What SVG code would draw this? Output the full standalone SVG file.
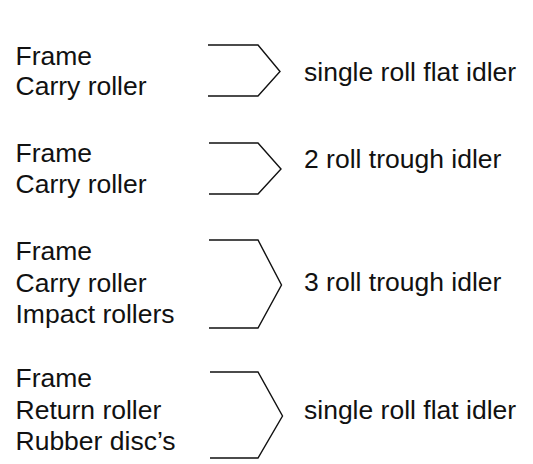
<svg xmlns="http://www.w3.org/2000/svg" width="533" height="464" viewBox="0 0 533 464">
<style>
text{font-family:"Liberation Sans",Arial,sans-serif;font-size:26.5px;fill:#111}
.br{fill:none;stroke:#111;stroke-width:1.4;stroke-linejoin:miter}
</style>
<rect width="533" height="464" fill="#fff"/>
<g id="node1">
<text x="15.5" y="65">Frame</text>
<text x="15.5" y="95">Carry roller</text>
<text x="304" y="81">single roll flat idler</text>
</g>
<g id="node2">
<text x="15.5" y="162">Frame</text>
<text x="15.5" y="193">Carry roller</text>
<text x="304" y="168">2 roll trough idler</text>
</g>
<g id="node3">
<text x="15.5" y="260">Frame</text>
<text x="15.5" y="292">Carry roller</text>
<text x="15.5" y="323">Impact rollers</text>
<text x="304" y="291">3 roll trough idler</text>
</g>
<g id="node4">
<text x="15.5" y="387">Frame</text>
<text x="15.5" y="419">Return roller</text>
<text x="15.5" y="450">Rubber disc’s</text>
<text x="304" y="419">single roll flat idler</text>
</g>
<g id="connectors">
<path class="br" d="M208,45 H258 L280,71.5 L258,96 H208"/>
<path class="br" d="M209,143 H258 L281,169 L258,194 H209"/>
<path class="br" d="M209,240 H258 L281.5,285 L258,328 H209"/>
<path class="br" d="M210,372 H258 L282.5,416 L258,458 H210"/>
</g>
</svg>
